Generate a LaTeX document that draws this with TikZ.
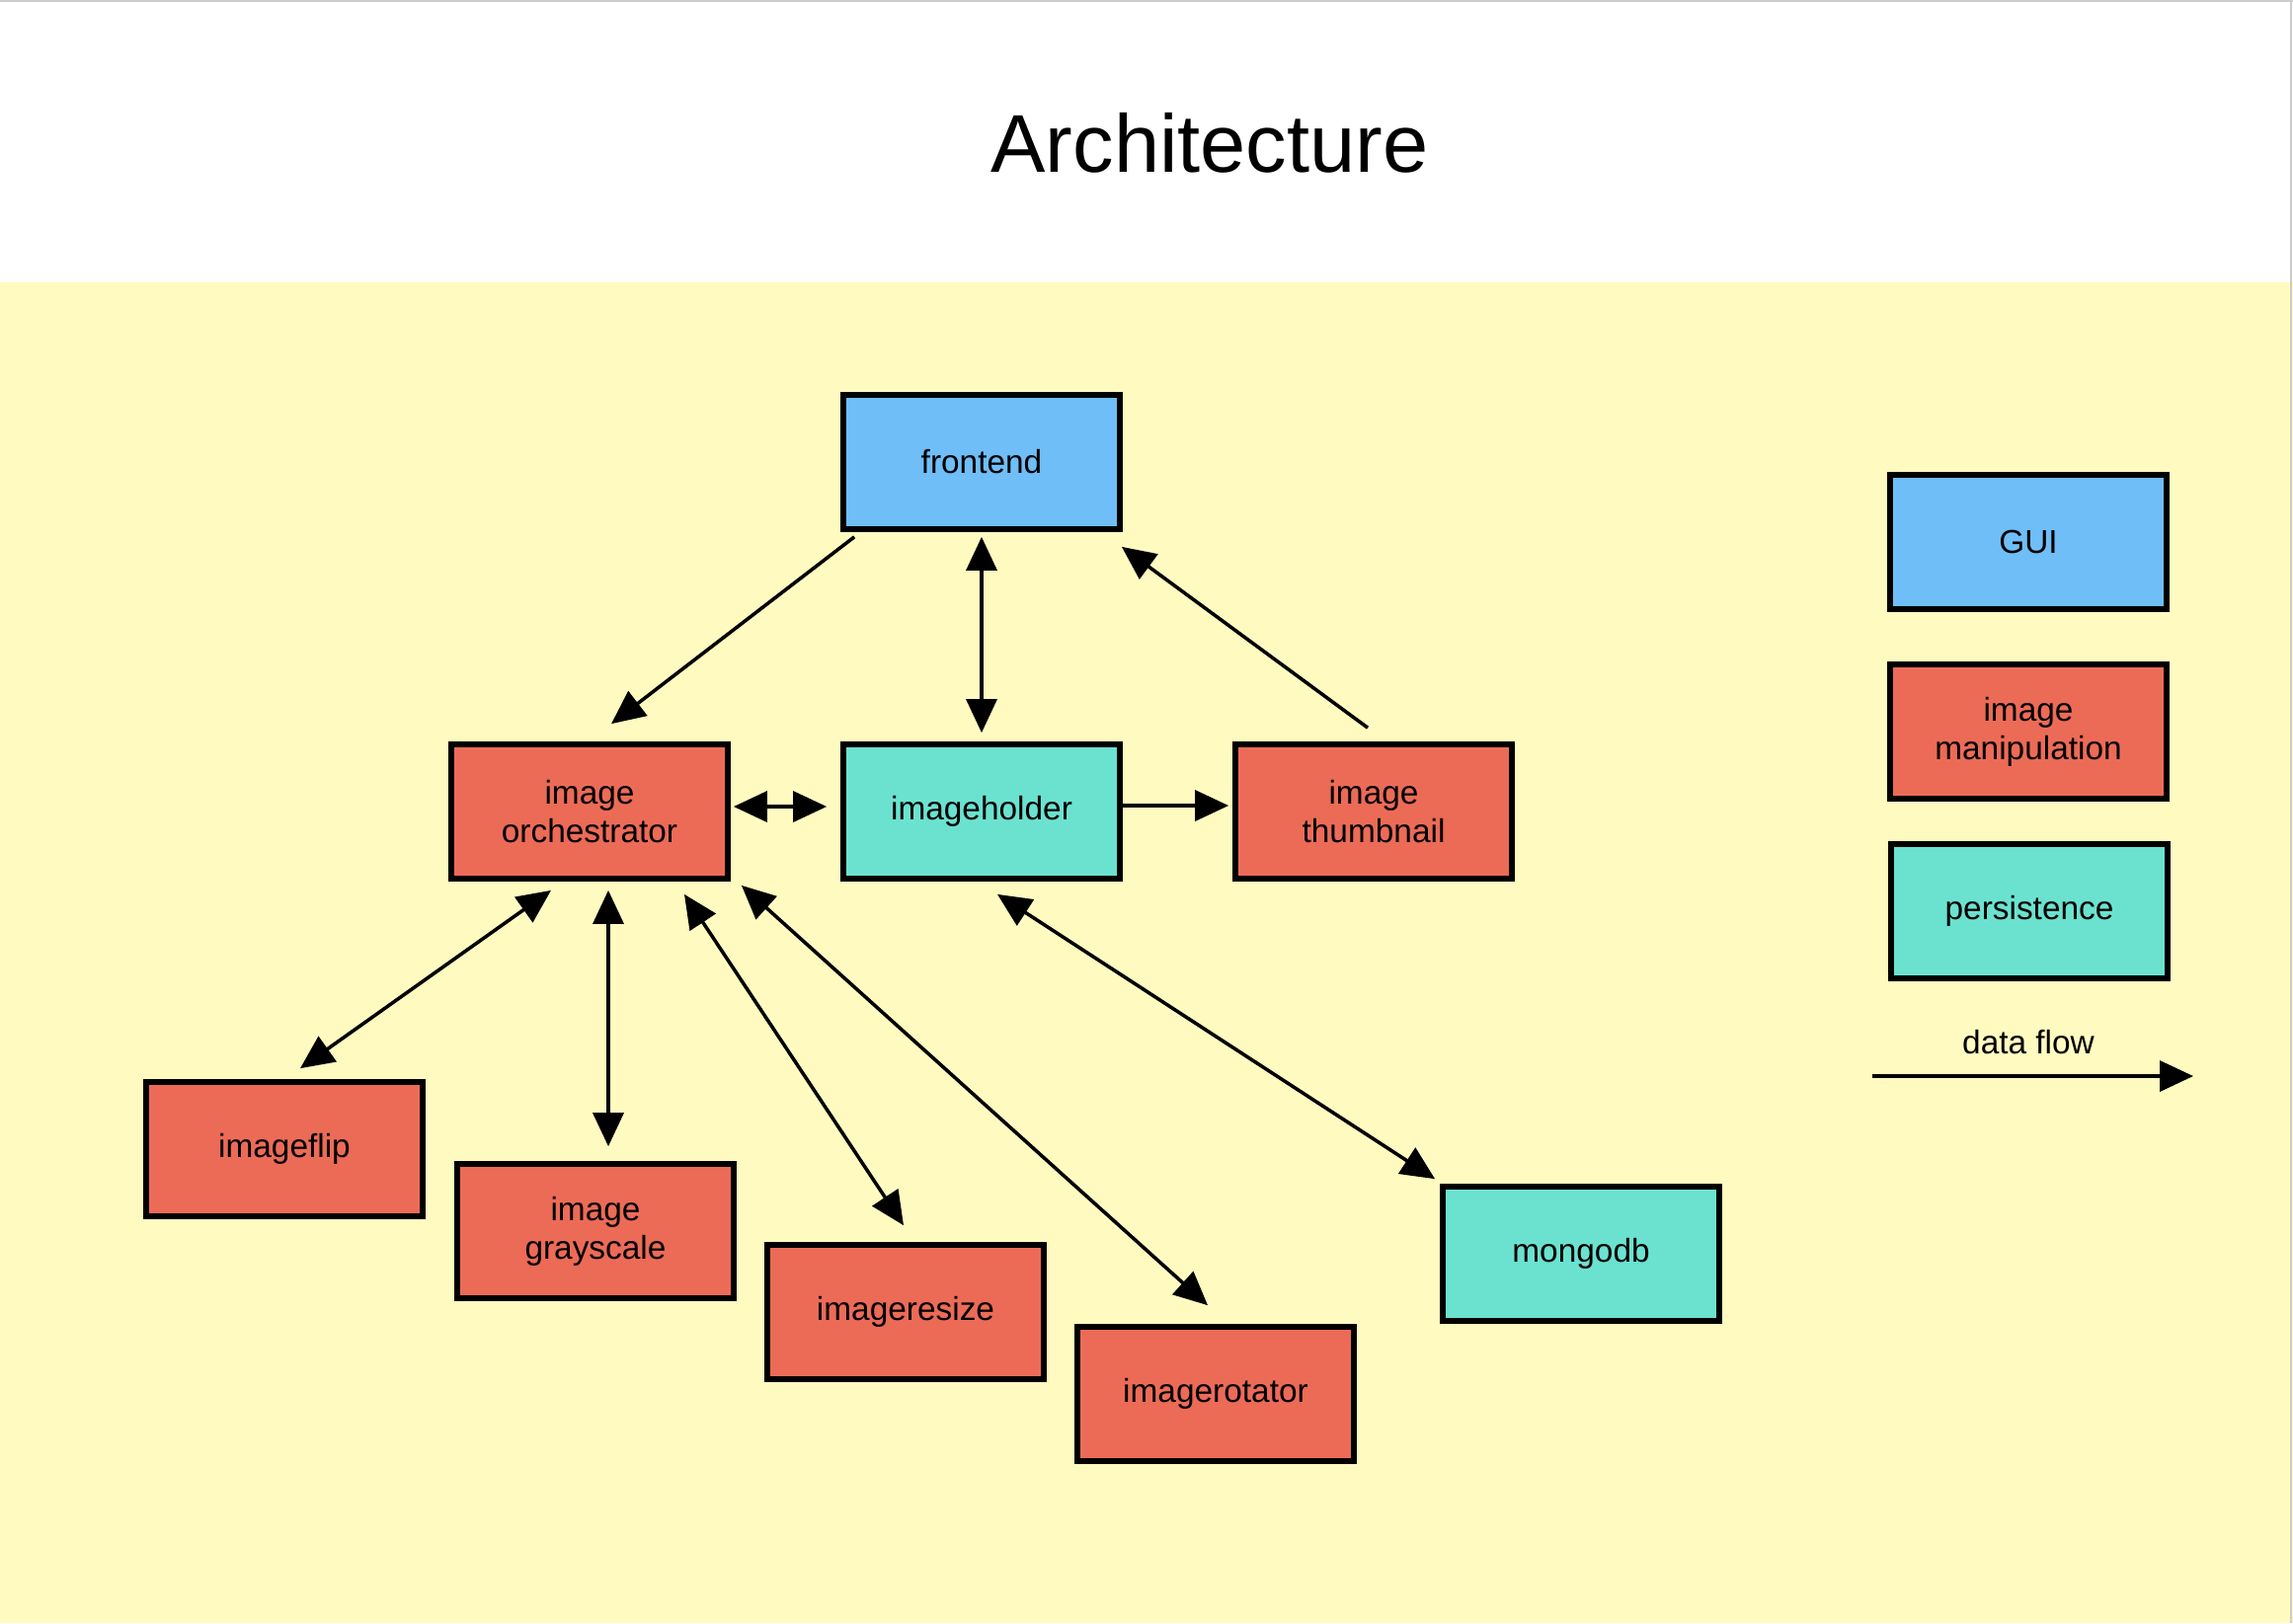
\documentclass[tikz,border=0pt]{standalone}
\usepackage{fontspec}
\setmainfont{Liberation Sans}
\usetikzlibrary{arrows.meta,calc}

\definecolor{guiblue}{RGB}{111,190,248}
\definecolor{imgred}{RGB}{236,107,87}
\definecolor{persteal}{RGB}{107,226,208}
\definecolor{paper}{RGB}{255,251,192}

\begin{document}
\begin{tikzpicture}[x=0.01cm, y=-0.01cm,
  box/.style={draw, line width=1.6pt, minimum width=2.8cm, minimum height=1.36cm,
    inner sep=0pt, align=center, font=\fontsize{9.5}{11}\selectfont},
  gui/.style={box, fill=guiblue},
  manip/.style={box, fill=imgred},
  store/.style={box, fill=persteal},
  flow/.style={-{Triangle[length=3.4mm,width=3.1mm]}, line width=1pt},
  flowboth/.style={{Triangle[length=3.4mm,width=3.1mm]}-{Triangle[length=3.4mm,width=3.1mm]}, line width=1pt}]

\useasboundingbox (0,0) rectangle (2322,1644);
\fill[white] (0,0) rectangle (2322,286);
\fill[paper] (0,286) rectangle (2322,1644);
\draw[gray!40, line width=0.6pt] (0,1) -- (2322,1);
\draw[gray!40, line width=0.6pt] (2320,0) -- (2320,1644);

\node (title) at (1225,145) {\fontsize{23.6}{28}\selectfont Architecture};

\node[gui] (frontend) at (994,468) {frontend};
\node[manip] (orch) at (597,822) {image\\orchestrator};
\node[store] (holder) at (994,822) {imageholder};
\node[manip] (thumb) at (1391,822) {image\\thumbnail};
\node[manip] (flip) at (288,1164) {imageflip};
\node[manip] (gray) at (603,1247) {image\\grayscale};
\node[manip] (resize) at (917,1329) {imageresize};
\node[manip] (rotator) at (1231,1412) {imagerotator};
\node[store] (mongo) at (1601,1270) {mongodb};

% legend
\node[gui] (lgui) at (2054,549) {GUI};
\node[manip] (lmanip) at (2054,741) {image\\manipulation};
\node[store] (lpers) at (2055,923) {persistence};
\node[font=\fontsize{9.5}{11}\selectfont] (lflow) at (2054,1056) {data flow};
\coordinate (dfa) at (1896,1090);
\coordinate (dfb) at (2221,1090);
\draw[flow] (dfa) -- (dfb);

\draw[flow] ($(frontend.south west)+(14,5)$) -- ($(orch.north)+(22,-18)$);
\draw[flowboth] ($(frontend.south)+(0,5)$) -- ($(holder.north)+(0,-9)$);
\draw[flow] ($(thumb.north)+(-6,-14)$) -- ($(frontend.south east)+(-1,15)$);
\draw[flowboth] ($(orch.east)+(3,-5)$) -- ($(holder.west)+(-14,-5)$);
\draw[flow] ($(holder.east)+(0,-6)$) -- ($(thumb.west)+(-4,-6)$);

\draw[flowboth] ($(orch.south)+(-39,9)$) -- ($(flip.north)+(16,-11)$);
\draw[flowboth] ($(orch.south)+(19,9)$) -- ($(gray.north)+(13,-15)$);
\draw[flowboth] ($(orch.south)+(96,13)$) -- ($(resize.north)+(-2,-17)$);
\draw[flowboth] ($(orch.south east)+(11,4)$) -- ($(rotator.north)+(-8,-19)$);
\draw[flowboth] ($(holder.south)+(16,13)$) -- ($(mongo.north west)+(-5,-5)$);

\end{tikzpicture}
\end{document}
